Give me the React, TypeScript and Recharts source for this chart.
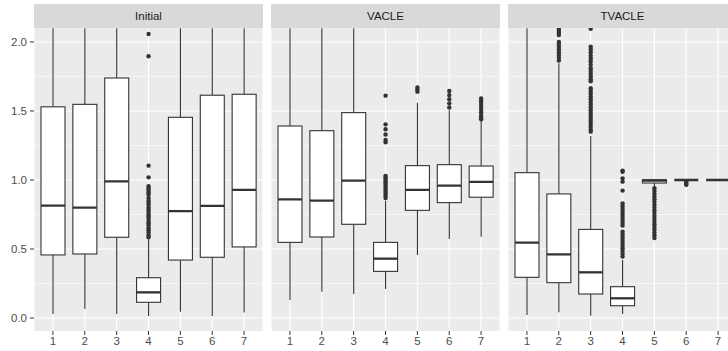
import React from 'react';
import { ComposedChart, Bar, XAxis, YAxis, CartesianGrid } from 'recharts';

const categories = ['1', '2', '3', '4', '5', '6', '7'];
const yTicks = [0, 0.5, 1, 1.5, 2];
const yMinor = [0.25, 0.75, 1.25, 1.75];
const yDomain = [-0.094, 2.101];
// two reference values the bar spans, used to map box values to pixels
const spanRef: [number, number] = [0, 2];

// Initial
const initialLower = [0.03, 0.065, 0.03, 0.015, 0.046, 0.015, 0.04];
const initialQ1 = [0.457, 0.464, 0.585, 0.114, 0.42, 0.44, 0.515];
const initialMedian = [0.814, 0.8, 0.99, 0.186, 0.775, 0.812, 0.928];
const initialQ3 = [1.53, 1.548, 1.739, 0.292, 1.454, 1.614, 1.621];
const initialUpper = [2.1, 2.1, 2.1, 0.57, 2.1, 2.1, 2.1];
const initialOutliers = [
  [], [], [],
  [2.058, 1.896, 1.104, 1.019, 0.955, 0.94, 0.925, 0.91, 0.895, 0.87, 0.85, 0.835, 0.82, 0.8, 0.785,
    0.77, 0.75, 0.735, 0.72, 0.7, 0.685, 0.67, 0.65, 0.635, 0.62, 0.6, 0.585],
  [], [], [],
];

// VACLE
const vacleLower = [0.13, 0.191, 0.174, 0.21, 0.457, 0.572, 0.589];
const vacleQ1 = [0.548, 0.587, 0.679, 0.338, 0.78, 0.836, 0.875];
const vacleMedian = [0.86, 0.85, 0.995, 0.43, 0.928, 0.959, 0.986];
const vacleQ3 = [1.391, 1.357, 1.488, 0.548, 1.104, 1.111, 1.101];
const vacleUpper = [2.1, 2.1, 2.1, 0.85, 1.56, 1.505, 1.43];
const vacleOutliers = [
  [], [], [],
  [1.611, 1.403, 1.367, 1.33, 1.29, 1.273, 1.03, 1.02, 1.005, 0.99, 0.975, 0.96, 0.945, 0.93, 0.915,
    0.9, 0.885, 0.87],
  [1.67, 1.655, 1.64],
  [1.645, 1.615, 1.585, 1.555, 1.525],
  [1.59, 1.57, 1.55, 1.53, 1.51, 1.49, 1.47, 1.455, 1.44],
];

// TVACLE
const tvacleLower = [0.022, 0.041, 0.017, 0.029, 0.955, 1.0, 1.0];
const tvacleQ1 = [0.295, 0.256, 0.174, 0.089, 0.978, 1.0, 1.0];
const tvacleMedian = [0.546, 0.461, 0.331, 0.143, 0.995, 1.0, 1.0];
const tvacleQ3 = [1.053, 0.899, 0.642, 0.227, 1.002, 1.0, 1.0];
const tvacleUpper = [2.1, 1.845, 1.319, 0.42, 1.002, 1.0, 1.0];
const tvacleOutliers = [
  [],
  [2.095, 2.08, 2.065, 2.05, 2.0, 1.985, 1.965, 1.945, 1.925, 1.905, 1.885, 1.865],
  [2.095, 1.965, 1.945, 1.925, 1.9, 1.88, 1.86, 1.835, 1.81, 1.79, 1.77, 1.75, 1.73, 1.715,
    1.665, 1.645, 1.625, 1.605, 1.585, 1.565, 1.545, 1.525, 1.505, 1.485, 1.465, 1.445, 1.425,
    1.405, 1.385, 1.365, 1.35],
  [1.068, 1.012, 1.06, 0.988, 0.923, 0.83, 0.81, 0.79, 0.77, 0.75, 0.73, 0.71, 0.69, 0.67,
    0.625, 0.605, 0.585, 0.565, 0.545, 0.525, 0.505, 0.485, 0.465, 0.445],
  [0.94, 0.92, 0.9, 0.88, 0.86, 0.84, 0.82, 0.8, 0.78, 0.76, 0.74, 0.72, 0.7, 0.68, 0.66,
    0.64, 0.62, 0.6, 0.58],
  [0.99, 0.98, 0.97, 0.965],
  [],
];

const panels = [
  { title: 'Initial', lower: initialLower, q1: initialQ1, median: initialMedian, q3: initialQ3, upper: initialUpper, outliers: initialOutliers },
  { title: 'VACLE', lower: vacleLower, q1: vacleQ1, median: vacleMedian, q3: vacleQ3, upper: vacleUpper, outliers: vacleOutliers },
  { title: 'TVACLE', lower: tvacleLower, q1: tvacleQ1, median: tvacleMedian, q3: tvacleQ3, upper: tvacleUpper, outliers: tvacleOutliers },
];

const FONT = '"Liberation Sans", Arial, Helvetica, sans-serif';
const INK = '#333333';

const BoxShape = (props: any) => {
  const { x, y, width, height, payload } = props;
  if (!payload) return null;
  const top = Math.min(y, y + height);
  const bottom = Math.max(y, y + height);
  const [lo, hi] = payload.span;
  const py = (v: number) => bottom - ((v - lo) / (hi - lo)) * (bottom - top);
  const cx = x + width / 2;
  const yQ1 = py(payload.q1);
  const yQ3 = py(payload.q3);
  return (
    <g>
      <line x1={cx} x2={cx} y1={py(payload.upper)} y2={yQ3} stroke={INK} strokeWidth={1.1} />
      <line x1={cx} x2={cx} y1={yQ1} y2={py(payload.lower)} stroke={INK} strokeWidth={1.1} />
      <rect x={x} y={yQ3} width={width} height={Math.max(yQ1 - yQ3, 0)} fill="#ffffff" stroke={INK} strokeWidth={1.1} />
      <line x1={x} x2={x + width} y1={py(payload.median)} y2={py(payload.median)} stroke={INK} strokeWidth={2.3} />
      {payload.outliers.map((v: number, i: number) => (
        <circle key={i} cx={cx} cy={py(v)} r={2.2} fill={INK} />
      ))}
    </g>
  );
};

const PANEL_W = 229;
const PLOT_LEFTS = [34, 271, 508];

const Panel = ({ index }: { index: number }) => {
  const p = panels[index];
  const rows = categories.map((cat, i) => ({
    cat,
    span: spanRef,
    lower: p.lower[i],
    q1: p.q1[i],
    median: p.median[i],
    q3: p.q3[i],
    upper: p.upper[i],
    outliers: p.outliers[i],
  }));
  const showY = index === 0;
  const axisW = showY ? 34 : 0;
  return (
    <div style={{ position: 'absolute', left: PLOT_LEFTS[index] - axisW, top: 0 }}>
      <ComposedChart
        width={PANEL_W + axisW}
        height={351}
        data={rows}
        margin={{ top: 28, right: 0, bottom: 0, left: 0 }}
      >
        <CartesianGrid
          horizontalValues={yMinor}
          vertical={false}
          fill="#EBEBEB"
          fillOpacity={1}
          stroke="#ffffff"
          strokeWidth={0.55}
        />
        <CartesianGrid horizontalValues={yTicks} stroke="#ffffff" strokeWidth={1.1} />
        <XAxis
          dataKey="cat"
          type="category"
          padding={{ left: 3, right: 3 }}
          height={20}
          axisLine={false}
          tickLine={{ stroke: INK }}
          tickSize={4}
          tickMargin={2}
          tick={{ fill: '#4D4D4D', fontSize: 11.5, fontFamily: FONT }}
          interval={0}
        />
        <YAxis
          hide={!showY}
          width={34}
          domain={yDomain}
          allowDataOverflow
          ticks={yTicks}
          tickFormatter={(v: number) => v.toFixed(1)}
          axisLine={false}
          tickLine={{ stroke: INK }}
          tickSize={4}
          tickMargin={3}
          tick={{ fill: '#4D4D4D', fontSize: 11.5, fontFamily: FONT }}
        />
        <Bar dataKey="span" barSize={24} shape={<BoxShape />} isAnimationActive={false} />
      </ComposedChart>
    </div>
  );
};

export default function App() {
  return (
    <div
      style={{
        position: 'absolute',
        left: 0,
        top: 0,
        width: 728,
        height: 351,
        overflow: 'hidden',
        background: '#ffffff',
        fontFamily: FONT,
      }}
    >
      {panels.map((_, i) => (
        <Panel key={i} index={i} />
      ))}
      {panels.map((p, i) => (
        <div
          key={p.title}
          style={{
            position: 'absolute',
            left: PLOT_LEFTS[i],
            top: 4,
            width: PANEL_W,
            height: 24,
            background: '#D9D9D9',
            color: '#1A1A1A',
            fontSize: 11.5,
            lineHeight: '24px',
            textAlign: 'center',
          }}
        >
          {p.title}
        </div>
      ))}
    </div>
  );
}
